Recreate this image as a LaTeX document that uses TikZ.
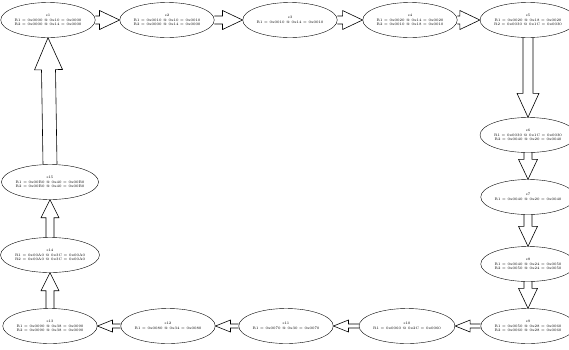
\documentclass[tikz,border=0pt]{standalone}
\usepackage{tikz}
\usetikzlibrary{positioning,shapes.geometric,calc}

\begin{document}
\begin{tikzpicture}[
        x=1pt, y=-1pt,
        state/.style={ellipse, draw, thin, minimum width=80pt, minimum height=35pt,
            inner sep=0pt, align=center, font=\fontsize{3.6}{4.8}\selectfont},
        % hollow block arrow: half shaft width, head length, half head width
        flow/.style n args={3}{draw, line width=0.6pt, line join=miter,
            to path={let \p1=($(\tikztotarget)!#2!(\tikztostart)$) in
                ($(\tikztostart)!#1!90:(\tikztotarget)$) -- ($(\p1)!#1!-90:(\tikztostart)$)
                -- ($(\p1)!#3!-90:(\tikztostart)$) -- (\tikztotarget)
                -- ($(\p1)!#3!90:(\tikztostart)$) -- ($(\p1)!#1!90:(\tikztostart)$)
                -- ($(\tikztostart)!#1!-90:(\tikztotarget)$)}}
    ]
        \useasboundingbox (0,0) rectangle (569,349);

        % Top row
        \node[state] (S1) at (48,20) {s1\\R1 = 0x0000 @ 0x10 = 0x0000\\R2 = 0x0000 @ 0x14 = 0x0000};
        \node[state] (S2) at (167,20) {s2\\R1 = 0x0010 @ 0x10 = 0x0010\\R2 = 0x0000 @ 0x14 = 0x0000};
        \node[state] (S3) at (290,20) {s3\\R1 = 0x0010 @ 0x14 = 0x0010};
        \node[state] (S4) at (410,20) {s4\\R1 = 0x0020 @ 0x14 = 0x0020\\R2 = 0x0010 @ 0x18 = 0x0010};
        \node[state] (S5) at (528,20) {s5\\R1 = 0x0020 @ 0x18 = 0x0020\\R2 = 0x0030 @ 0x1C = 0x0030};

        % Right column
        \node[state] (S6) at (528,135) {s6\\R1 = 0x0030 @ 0x1C = 0x0030\\R2 = 0x0040 @ 0x20 = 0x0040};
        \node[state] (S7) at (528,197) {s7\\R1 = 0x0040 @ 0x20 = 0x0040};
        \node[state] (S8) at (528,264) {s8\\R1 = 0x0040 @ 0x24 = 0x0050\\R2 = 0x0050 @ 0x24 = 0x0050};
        \node[state] (S9) at (528,326) {s9\\R1 = 0x0050 @ 0x28 = 0x0060\\R2 = 0x0060 @ 0x28 = 0x0060};

        % Bottom row
        \node[state] (S10) at (407,326) {s10\\R1 = 0x0060 @ 0x2C = 0x0060};
        \node[state] (S11) at (286,326) {s11\\R1 = 0x0070 @ 0x30 = 0x0070};
        \node[state] (S12) at (168,326) {s12\\R1 = 0x0080 @ 0x34 = 0x0080};
        \node[state] (S13) at (50,326) {s13\\R1 = 0x0090 @ 0x38 = 0x0090\\R2 = 0x0090 @ 0x38 = 0x0090};

        % Left column
        \node[state] (S14) at (50,255) {s14\\R1 = 0x00A0 @ 0x3C = 0x00A0\\R2 = 0x00A0 @ 0x3C = 0x00A0};
        \node[state] (S15) at (50,182) {s15\\R1 = 0x00B0 @ 0x40 = 0x00B0\\R2 = 0x00B0 @ 0x40 = 0x00B0};

        % Transitions
        \draw[flow={4pt}{20pt}{9.5pt}] (S1.east) to (S2.west);
        \draw[flow={4pt}{20pt}{9.5pt}] (S2.east) to (S3.west);
        \draw[flow={4pt}{20pt}{9.5pt}] (S3.east) to (S4.west);
        \draw[flow={4pt}{20pt}{9.5pt}] (S4.east) to (S5.west);
        \draw[flow={5pt}{24pt}{11pt}] (S5.south) to (S6.north);
        \draw[flow={4pt}{20pt}{9.5pt}] (S6.south) to (S7.north);
        \draw[flow={4pt}{20pt}{9.5pt}] (S7.south) to (S8.north);
        \draw[flow={4pt}{20pt}{9.5pt}] (S8.south) to (S9.north);
        \draw[flow={2pt}{15pt}{6pt}] (S9.west) to (S10.east);
        \draw[flow={2pt}{15pt}{6pt}] (S10.west) to (S11.east);
        \draw[flow={2pt}{15pt}{6pt}] (S11.west) to (S12.east);
        \draw[flow={2pt}{15pt}{6pt}] (S12.west) to (S13.east);
        \draw[flow={4pt}{18pt}{9pt}] (S13.north) to (S14.south);
        \draw[flow={4pt}{18pt}{9pt}] (S14.north) to (S15.south);
        \draw[flow={7pt}{32pt}{14pt}] (S15.north) to (S1.south);
    \end{tikzpicture}
\end{document}
